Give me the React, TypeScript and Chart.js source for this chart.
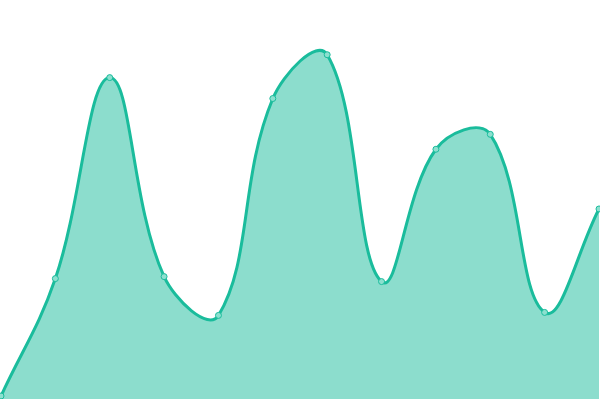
import React, { useEffect, useRef } from 'react';
import Chart from 'chart.js/auto';

const labels = ['1', '2', '3', '4', '5', '6', '7', '8', '9', '10', '11', '12'];
const values = [3, 121, 323, 123, 84, 302, 346, 118, 251, 266, 87, 191];

const lineColor = 'rgb(26, 188, 156)';
const fillColor = 'rgba(26, 188, 156, 0.5)';
const pointFill = 'rgb(140, 224, 207)';

const App: React.FC = () => {
  const chartRef = useRef<HTMLCanvasElement>(null);
  const chartInstance = useRef<Chart | null>(null);

  useEffect(() => {
    const ctx = chartRef.current?.getContext('2d');
    if (!ctx) return;

    chartInstance.current = new Chart(ctx, {
      type: 'line',
      data: {
        labels,
        datasets: [
          {
            data: values,
            borderColor: lineColor,
            backgroundColor: fillColor,
            borderWidth: 3,
            fill: 'origin',
            tension: 0.4,
            pointRadius: 3,
            pointBorderWidth: 1,
            pointBackgroundColor: pointFill,
            pointBorderColor: lineColor,
          },
        ],
      },
      options: {
        animation: false,
        responsive: true,
        maintainAspectRatio: false,
        layout: { padding: 0 },
        plugins: { legend: { display: false }, tooltip: { enabled: false } },
        scales: {
          x: { display: false, offset: false },
          y: { display: false, min: 0, max: 400 },
        },
      },
    });

    return () => {
      chartInstance.current?.destroy();
      chartInstance.current = null;
    };
  }, []);

  // chart.js keeps 4px for the point overflow, so the canvas is widened to let the plot reach the window edges
  return (
    <div style={{ position: 'fixed', left: 0, top: 0, width: 600, height: 400, overflow: 'hidden', background: '#fff' }}>
      <div style={{ position: 'absolute', left: -4, top: -4, width: 608, height: 408 }}>
        <canvas ref={chartRef} />
      </div>
    </div>
  );
};

export default App;
